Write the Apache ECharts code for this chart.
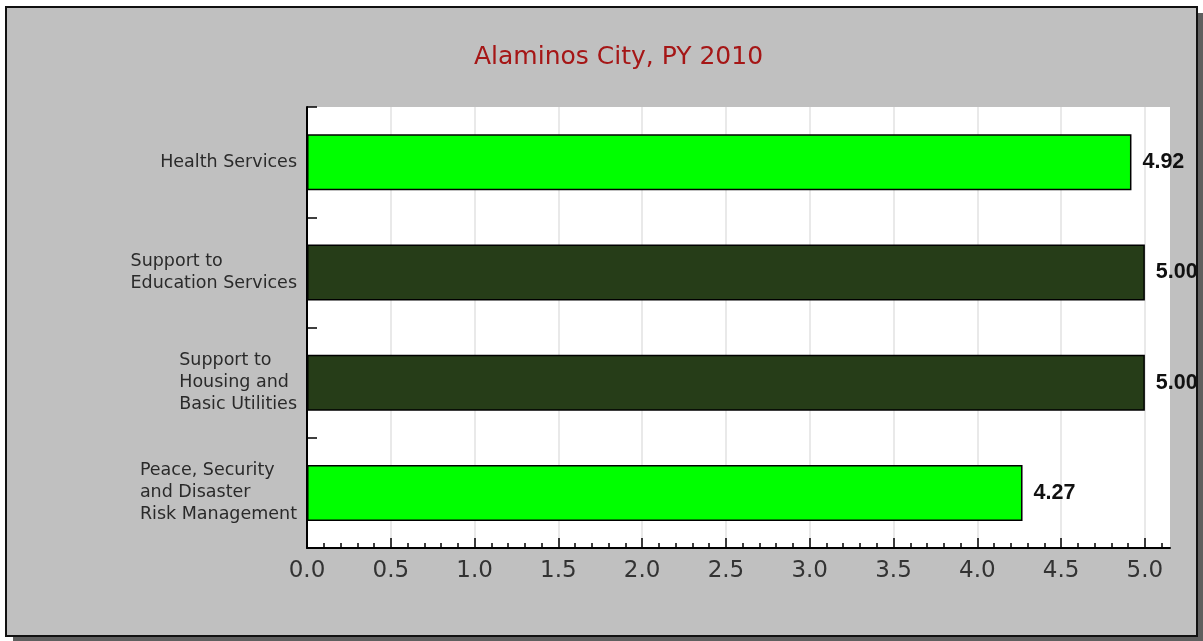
<!DOCTYPE html>
<html>
<head>
<meta charset="utf-8">
<script src="https://cdn.jsdelivr.net/npm/echarts@6/dist/echarts.min.js"></script>
<style>
  html, body { margin: 0; padding: 0; background: #fff; }
  #main { width: 1203px; height: 641px; }
</style>
</head>
<body>
<div id="main"></div>
<script>
// data
var categories = [
  'Health Services',
  'Support to\nEducation Services',
  'Support to\nHousing and\nBasic Utilities',
  'Peace, Security\nand Disaster\nRisk Management'
];
var scores = [4.92, 5.00, 5.00, 4.27];
var xTicks = [0, 0.5, 1.0, 1.5, 2.0, 2.5, 3.0, 3.5, 4.0, 4.5, 5.0];

// minor ticks every 0.1 between the major ones (plus one past 5.0)
var minorTicks = [];
for (var i = 0; i < xTicks.length; i++) {
  for (var k = 1; k < 5; k++) {
    var v = +(xTicks[i] + k * 0.1).toFixed(1);
    if (v < 5.16) minorTicks.push(v);
  }
}

var barColors = ['#00ff00', '#263d18', '#263d18', '#00ff00'];

var myChart = echarts.init(document.getElementById('main'));

var option = {
  animation: false,
  title: {
    text: 'Alaminos City, PY 2010',
    left: 469,
    top: 40,
    textStyle: {
      color: '#a51616',
      fontSize: 25,
      fontWeight: 'normal',
      fontFamily: 'DejaVu Sans'
    }
  },
  grid: {
    left: 307,
    top: 107,
    width: 863,
    height: 441,
    show: true,
    backgroundColor: '#fff',
    borderWidth: 0
  },
  xAxis: [{
    type: 'value',
    min: 0,
    max: 5.15,
    interval: 0.5,
    axisLine: { show: true, lineStyle: { color: '#000', width: 2 } },
    axisTick: {
      show: true, inside: true, length: 10,
      customValues: xTicks,
      lineStyle: { color: '#000', width: 1.5 }
    },
    axisLabel: {
      customValues: xTicks,
      formatter: function (v) { return v.toFixed(1); },
      fontSize: 23,
      fontFamily: 'DejaVu Sans',
      color: '#333',
      margin: 12
    },
    splitLine: { show: true, lineStyle: { color: '#e2e2e2', width: 1.5 } }
  }, {
    type: 'value',
    position: 'bottom',
    min: 0,
    max: 5.15,
    axisLine: { show: false },
    axisTick: {
      show: true, inside: true, length: 5,
      customValues: minorTicks,
      lineStyle: { color: '#000', width: 1.5 }
    },
    axisLabel: { show: false },
    splitLine: { show: false }
  }],
  yAxis: {
    type: 'category',
    data: categories,
    inverse: true,
    axisLine: { show: true, lineStyle: { color: '#000', width: 2 } },
    axisTick: { show: true, inside: true, length: 10, lineStyle: { color: '#000', width: 1.5 } },
    axisLabel: {
      margin: 10,
      formatter: function (v) { return '{a|' + v + '}'; },
      rich: {
        a: {
          align: 'left',
          fontSize: 17.5,
          lineHeight: 22,
          fontFamily: 'DejaVu Sans',
          color: '#2a2a2a'
        }
      }
    }
  },
  series: [{
    type: 'bar',
    xAxisIndex: 0,
    barWidth: 56,
    data: scores.map(function (v, i) {
      return { value: v, itemStyle: { color: barColors[i] } };
    }),
    itemStyle: { borderColor: '#000', borderWidth: 1.5 },
    label: {
      show: true,
      position: 'right',
      distance: 11,
      formatter: function (p) { return p.value.toFixed(2); },
      fontFamily: 'Liberation Sans',
      fontWeight: 'bold',
      fontSize: 21.5,
      color: '#111'
    }
  }],
  graphic: [
    // panel background
    { type: 'rect', z: -10, shape: { x: 6, y: 7, width: 1191, height: 629 }, style: { fill: '#c0c0c0' } },
    // drop shadow (drawn on top so it clips the overflowing label)
    { type: 'rect', z: 100, shape: { x: 1197, y: 13, width: 6, height: 628 }, style: { fill: '#5f5f5f' } },
    { type: 'rect', z: 100, shape: { x: 13, y: 636, width: 1190, height: 5 }, style: { fill: '#5f5f5f' } },
    { type: 'rect', z: 101, shape: { x: 6, y: 7, width: 1191, height: 629 }, style: { fill: null, stroke: '#111', lineWidth: 2 } }
  ]
};

myChart.setOption(option);
</script>
</body>
</html>
